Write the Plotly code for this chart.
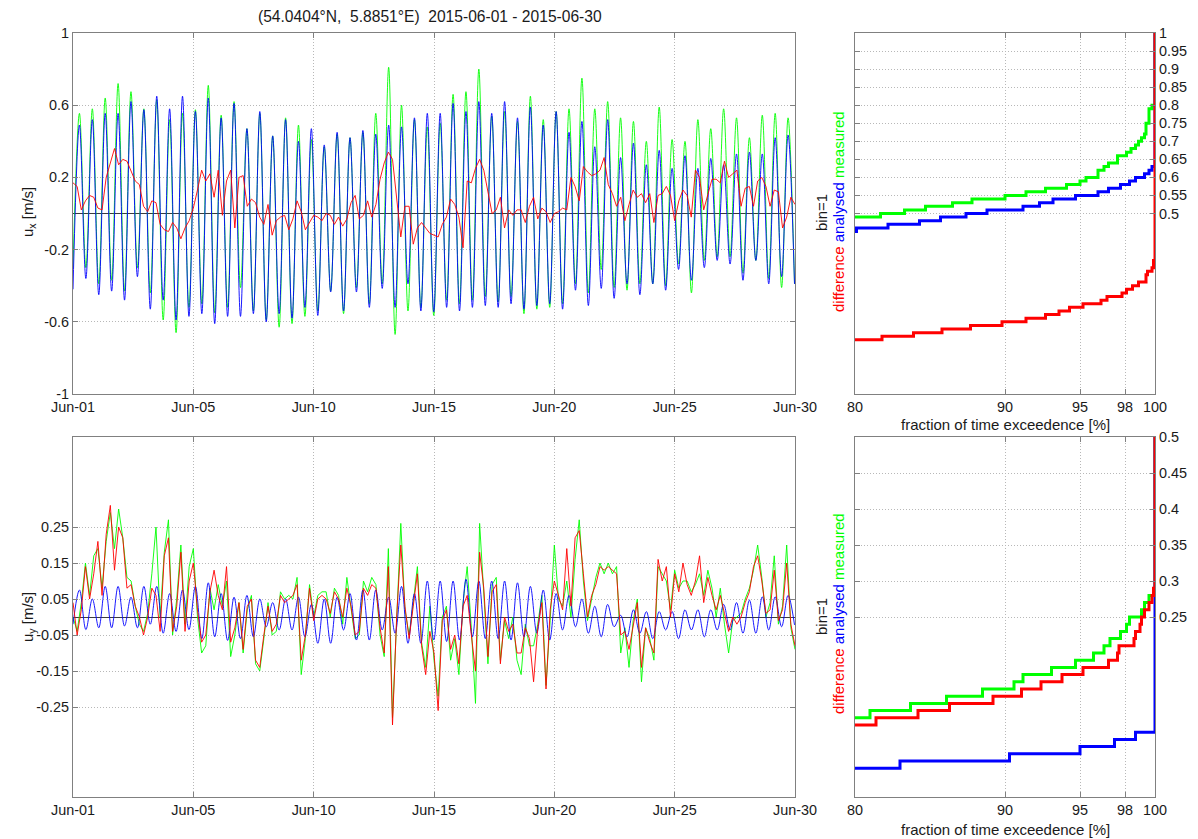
import plotly.graph_objects as go

# ---------------- data ----------------
EXT_STEP_H = 6.21      # hours between successive tidal extrema
DIFF_STEP_H = 4.0      # hours between samples of the noisy series

ux_measured_ext = [
    -0.30, 0.555, -0.30, 0.58, -0.39, 0.64, -0.37, 0.72, -0.43, 0.675,
    -0.30, 0.58, -0.44, 0.63, -0.59, 0.52, -0.66, 0.555, -0.52, 0.575,
    -0.50, 0.71, -0.55, 0.545, -0.52, 0.62, -0.41, 0.47, -0.54, 0.555,
    -0.59, 0.43, -0.63, 0.53, -0.61, 0.49, -0.57, 0.41, -0.54, 0.37,
    -0.43, 0.44, -0.555, 0.42, -0.41, 0.45, -0.50, 0.555, -0.39, 0.81,
    -0.67, 0.60, -0.54, 0.52, -0.52, 0.48, -0.565, 0.50, -0.48, 0.66,
    -0.50, 0.675, -0.48, 0.80, -0.46, 0.54, -0.49, 0.565, -0.46, 0.51,
    -0.555, 0.65, -0.53, 0.52, -0.52, 0.565, -0.50, 0.58, -0.39, 0.75,
    -0.44, 0.58, -0.31, 0.62, -0.41, 0.53, -0.425, 0.51, -0.39, 0.40,
    -0.39, 0.59, -0.40, 0.41, -0.28, 0.40, -0.44, 0.52, -0.26, 0.47,
    -0.24, 0.58, -0.24, 0.53, -0.33, 0.42, -0.26, 0.545, -0.36, 0.555,
    -0.41, 0.53, -0.39]

ux_analysed_ext = [
    -0.42, 0.49, -0.36, 0.52, -0.45, 0.555, -0.43, 0.555, -0.48, 0.62,
    -0.35, 0.575, -0.53, 0.65, -0.48, 0.58, -0.59, 0.65, -0.57, 0.565,
    -0.555, 0.64, -0.61, 0.53, -0.57, 0.61, -0.57, 0.47, -0.555, 0.565,
    -0.60, 0.43, -0.555, 0.52, -0.58, 0.40, -0.52, 0.47, -0.565, 0.38,
    -0.435, 0.45, -0.54, 0.42, -0.435, 0.46, -0.52, 0.44, -0.415, 0.49,
    -0.52, 0.48, -0.39, 0.53, -0.54, 0.555, -0.545, 0.555, -0.52, 0.61,
    -0.54, 0.565, -0.52, 0.62, -0.51, 0.555, -0.52, 0.62, -0.50, 0.53,
    -0.53, 0.59, -0.51, 0.49, -0.50, 0.565, -0.53, 0.45, -0.425, 0.51,
    -0.51, 0.37, -0.415, 0.52, -0.47, 0.31, -0.39, 0.39, -0.45, 0.27,
    -0.39, 0.35, -0.425, 0.25, -0.31, 0.32, -0.37, 0.25, -0.30, 0.305,
    -0.26, 0.27, -0.28, 0.33, -0.37, 0.34, -0.26, 0.33, -0.39, 0.42,
    -0.35, 0.435, -0.39]

ux_difference = [
    0.17, 0.15, 0.02, 0.07, 0.10, 0.09, 0.03, 0.02, 0.20, 0.28,
    0.36, 0.27, 0.30, 0.29, 0.23, 0.18, 0.16, 0.04, 0.01, 0.07,
    0.06, -0.06, -0.09, -0.10, -0.05, -0.08, -0.14, -0.08, -0.04, 0.03,
    0.13, 0.24, 0.18, 0.22, 0.09, 0.24, -0.01, 0.18, 0.24, -0.08,
    0.20, 0.21, 0.04, 0.08, 0.06, -0.02, -0.06, 0.05, -0.12, -0.04,
    -0.02, -0.01, -0.09, -0.03, 0.07, 0.01, -0.09, -0.05, -0.01, -0.02,
    -0.04, 0.00, -0.01, -0.06, -0.02, -0.07, -0.03, 0.06, 0.10, -0.03,
    -0.01, 0.07, -0.02, 0.05, 0.19, 0.28, 0.34, 0.30, 0.07, -0.13,
    0.04, 0.04, -0.17, -0.08, -0.05, -0.08, -0.11, -0.12, -0.13, -0.06,
    -0.02, 0.08, 0.05, -0.02, -0.19, 0.18, 0.17, 0.25, 0.30, 0.24,
    0.11, 0.00, 0.02, 0.09, -0.08, 0.02, -0.01, 0.02, 0.02, -0.05,
    0.04, 0.09, -0.03, 0.03, 0.01, -0.05, 0.00, 0.01, 0.03, 0.02,
    0.20, 0.15, 0.07, 0.26, 0.23, 0.21, 0.22, 0.24, 0.31, 0.16,
    0.11, 0.04, 0.09, -0.04, 0.05, 0.13, 0.09, 0.11, 0.06, 0.11,
    -0.05, 0.10, 0.11, 0.15, 0.10, -0.04, 0.07, 0.13, 0.10, -0.02,
    0.24, 0.20, 0.02, 0.10, 0.19, 0.19, 0.17, 0.29, 0.20, 0.22,
    0.24, 0.04, 0.14, 0.15, 0.04, 0.18, 0.20, 0.15, 0.04, 0.13,
    0.12, -0.08, -0.02, 0.09, 0.05]

uy_measured = [
    0.00, -0.04, 0.04, 0.15, 0.06, 0.17, 0.19, 0.08, 0.21, 0.29,
    0.19, 0.30, 0.22, 0.11, 0.10, 0.03, -0.02, -0.04, 0.01, 0.12,
    0.25, 0.00, 0.18, 0.27, -0.05, 0.05, 0.20, -0.02, 0.14, 0.19,
    0.00, -0.10, -0.08, 0.08, 0.02, 0.09, 0.03, 0.10, -0.11, -0.05,
    0.04, -0.10, 0.02, 0.06, -0.13, -0.15, -0.06, 0.04, -0.05, -0.04,
    0.07, 0.05, 0.06, 0.05, 0.11, -0.16, -0.06, 0.09, 0.00, 0.06,
    0.07, 0.07, 0.00, 0.08, 0.06, -0.02, 0.11, 0.02, -0.06, -0.05,
    0.10, 0.07, 0.11, 0.09, -0.05, -0.11, 0.19, -0.28, 0.00, 0.26,
    0.02, -0.05, 0.04, 0.14, -0.07, -0.14, 0.03, -0.12, -0.22, 0.00,
    0.03, -0.12, -0.06, -0.16, 0.04, 0.14, -0.03, -0.24, 0.26, 0.06,
    -0.13, 0.09, 0.11, -0.12, -0.01, -0.06, 0.00, -0.12, -0.16, -0.02,
    -0.08, -0.08, -0.02, 0.06, -0.19, -0.01, 0.20, 0.05, 0.03, 0.10,
    0.00, 0.16, 0.27, 0.10, -0.01, 0.05, 0.11, 0.15, 0.12, 0.15,
    0.12, 0.14, -0.10, -0.03, -0.14, -0.01, 0.05, -0.18, -0.03, -0.06,
    -0.12, 0.14, 0.12, 0.10, 0.02, 0.13, 0.08, 0.10, 0.10, 0.07,
    0.09, 0.12, 0.06, 0.13, 0.08, 0.00, 0.08, -0.02, -0.10, -0.01,
    0.00, 0.01, 0.05, 0.08, 0.13, 0.20, 0.11, 0.00, 0.04, 0.17,
    -0.02, 0.03, 0.20, -0.03, -0.09]

uy_analysed_ext = [
    -0.02, 0.075, -0.035, 0.05, -0.03, 0.085, -0.03, 0.085, -0.025, 0.055,
    -0.03, 0.085, -0.02, 0.085, -0.045, 0.065, -0.04, 0.075, -0.035, 0.085,
    -0.06, 0.095, -0.055, 0.065, -0.065, 0.055, -0.06, 0.06, -0.055, 0.05,
    -0.027, 0.04, -0.036, 0.05, -0.036, 0.055, -0.055, 0.035, -0.073, 0.05,
    -0.073, 0.055, -0.036, 0.065, -0.064, 0.075, -0.064, 0.075, -0.036, 0.055,
    -0.045, 0.085, -0.073, 0.065, -0.073, 0.10, -0.064, 0.10, -0.068, 0.10,
    -0.064, 0.105, -0.055, 0.10, -0.06, 0.10, -0.06, 0.10, -0.064, 0.095,
    -0.055, 0.085, -0.045, 0.075, -0.064, 0.065, -0.036, 0.06, -0.027, 0.05,
    -0.045, 0.03, -0.055, 0.035, -0.027, 0.005, -0.055, 0.02, -0.045, 0.015,
    -0.06, 0.015, -0.036, 0.015, -0.06, 0.02, -0.036, 0.02, -0.055, 0.02,
    -0.036, 0.035, -0.036, 0.04, -0.045, 0.047, -0.045, 0.056, -0.036, 0.056,
    -0.027, 0.06, -0.022]

uy_difference = [
    0.04, -0.05, 0.02, 0.14, 0.05, 0.12, 0.21, 0.06, 0.23, 0.31,
    0.13, 0.25, 0.22, 0.08, 0.09, 0.03, 0.00, -0.05, 0.00, 0.08,
    0.06, -0.04, 0.17, 0.22, -0.04, 0.03, 0.18, -0.04, 0.10, 0.15,
    0.02, -0.07, -0.05, 0.07, 0.13, 0.06, 0.02, 0.14, -0.07, -0.03,
    0.04, -0.09, 0.03, 0.05, -0.12, -0.14, -0.05, 0.03, -0.04, -0.02,
    0.06, 0.04, 0.05, 0.06, 0.09, -0.12, -0.05, 0.08, -0.01, 0.05,
    0.06, 0.05, 0.01, 0.07, 0.05, 0.00, 0.08, 0.03, -0.05, -0.04,
    0.08, 0.06, 0.09, 0.08, -0.03, -0.10, 0.14, -0.30, 0.00, 0.20,
    0.03, -0.06, 0.03, 0.12, -0.08, -0.16, -0.04, -0.10, -0.26, -0.01,
    0.02, -0.09, -0.05, -0.13, 0.03, 0.06, -0.05, -0.15, 0.18, 0.08,
    -0.11, 0.07, 0.09, -0.13, 0.00, -0.04, -0.02, -0.10, -0.10, -0.03,
    -0.06, -0.18, -0.03, 0.04, -0.20, 0.02, 0.10, 0.06, 0.02, 0.19,
    0.03, 0.22, 0.24, 0.12, 0.00, 0.06, 0.09, 0.14, 0.13, 0.14,
    0.13, 0.12, -0.05, -0.04, -0.09, -0.02, 0.04, -0.14, -0.03, -0.07,
    -0.10, 0.16, 0.10, 0.14, 0.00, 0.12, 0.07, 0.15, 0.09, 0.06,
    0.10, 0.17, 0.04, 0.11, 0.06, 0.02, 0.06, 0.01, -0.04, 0.00,
    -0.02, 0.00, 0.04, 0.07, 0.14, 0.17, 0.10, 0.01, 0.02, 0.13,
    -0.01, 0.02, 0.15, -0.02, -0.08]

time_tick_days = [0, 29 / 6, 2 * 29 / 6, 3 * 29 / 6, 4 * 29 / 6, 5 * 29 / 6, 29]
time_tick_labels = ["Jun-01", "Jun-05", "Jun-10", "Jun-15", "Jun-20", "Jun-25", "Jun-30"]

# exceedance curves (percent where a bin starts, bin value)
ux_exc_measured_pct = [80, 81.7, 83.3, 84.7, 86.5, 87.8, 90.0, 91.4, 92.7, 94.1, 95.0, 95.4,
                       96.2, 96.6, 96.9, 97.5, 98.1, 98.4, 98.7, 98.9, 99.1, 99.3, 99.4, 99.6, 99.8, 100]
ux_exc_measured_val = [0.49, 0.50, 0.51, 0.52, 0.53, 0.54, 0.55, 0.56, 0.57, 0.58, 0.59, 0.60,
                       0.62, 0.63, 0.64, 0.66, 0.67, 0.68, 0.69, 0.70, 0.71, 0.72, 0.75, 0.79, 0.80, 1.0]
ux_exc_analysed_pct = [80, 80.1, 82.2, 84.3, 85.7, 87.4, 88.8, 91.2, 92.3, 93.2, 94.7, 96.2,
                       96.9, 97.7, 98.3, 98.7, 99.3, 99.6, 99.8, 100]
ux_exc_analysed_val = [0.45, 0.46, 0.47, 0.48, 0.49, 0.50, 0.51, 0.52, 0.53, 0.54, 0.55, 0.56,
                       0.57, 0.58, 0.59, 0.60, 0.61, 0.62, 0.63, 1.0]
ux_exc_difference_pct = [80, 81.8, 83.9, 85.8, 87.7, 89.8, 91.4, 92.7, 93.6, 94.3, 95.2, 96.4,
                         96.8, 97.8, 98.1, 98.5, 98.9, 99.4, 99.5, 99.8, 99.9, 100]
ux_exc_difference_val = [0.15, 0.16, 0.17, 0.18, 0.19, 0.20, 0.21, 0.22, 0.23, 0.24, 0.25, 0.26,
                         0.27, 0.28, 0.29, 0.30, 0.31, 0.33, 0.34, 0.35, 0.37, 1.0]

uy_exc_measured_pct = [80, 81.0, 83.7, 86.1, 88.5, 90.6, 91.2, 93.1, 94.7, 95.9, 96.6, 97.0,
                       97.7, 98.1, 98.3, 99.1, 99.3, 99.6, 100]
uy_exc_measured_val = [0.11, 0.12, 0.13, 0.14, 0.15, 0.16, 0.17, 0.18, 0.19, 0.20, 0.21, 0.22,
                       0.23, 0.24, 0.25, 0.26, 0.27, 0.28, 0.5]
uy_exc_analysed_pct = [80, 83.0, 90.3, 95.0, 97.3, 98.7, 100]
uy_exc_analysed_val = [0.04, 0.05, 0.06, 0.07, 0.08, 0.09, 0.5]
uy_exc_difference_pct = [80, 81.4, 84.2, 86.3, 89.2, 91.1, 92.4, 93.8, 95.2, 96.9, 97.5, 97.6,
                         98.6, 98.7, 99.0, 99.1, 99.3, 99.6, 99.8, 99.9, 100]
uy_exc_difference_val = [0.10, 0.11, 0.12, 0.13, 0.14, 0.15, 0.16, 0.17, 0.18, 0.19, 0.20, 0.21,
                         0.22, 0.23, 0.24, 0.25, 0.26, 0.27, 0.28, 0.29, 0.5]

exc_ticks = [80, 90, 95, 98, 100]
ux_exc_yticks = [0.5, 0.55, 0.6, 0.65, 0.7, 0.75, 0.8, 0.85, 0.9, 0.95, 1.0]
uy_exc_yticks = [0.25, 0.3, 0.35, 0.4, 0.45, 0.5]
ux_yticks = [-1, -0.6, -0.2, 0.2, 0.6, 1]
uy_yticks = [-0.25, -0.15, -0.05, 0.05, 0.15, 0.25]

# ---------------- figure ----------------
W, H = 1198, 839
GREEN, BLUE, RED = "#00ff00", "#0000ff", "#ff0000"
FRAME = "#808080"
GRID = "#b8b8b8"
FAM = "Liberation Sans, Arial, sans-serif"
TXT = "#1a1a1a"
TICKFONT = dict(family=FAM, size=14.4, color=TXT)
LABELFONT = dict(family=FAM, size=15, color=TXT)
TITLEFONT = dict(family=FAM, size=15.6, color=TXT)

t_ext = [k * EXT_STEP_H / 24 for k in range(len(ux_measured_ext))]
t_ext_uy = [k * EXT_STEP_H / 24 for k in range(len(uy_analysed_ext))]
t_diff = [i * DIFF_STEP_H / 24 for i in range(len(ux_difference))]
t_uy = [i * DIFF_STEP_H / 24 for i in range(len(uy_measured))]

fig = go.Figure()

def ts(x, y, color, xa, ya, spline=False):
    fig.add_trace(go.Scatter(
        x=x, y=y, mode="lines", xaxis=xa, yaxis=ya, showlegend=False, hoverinfo="skip",
        line=dict(color=color, width=0.9, shape="spline" if spline else "linear", smoothing=1.0)))

ts(t_ext, ux_measured_ext, GREEN, "x", "y", True)
ts(t_ext, ux_analysed_ext, BLUE, "x", "y", True)
ts(t_diff, ux_difference, RED, "x", "y")

ts(t_uy, uy_measured, GREEN, "x2", "y2")
ts(t_ext_uy, uy_analysed_ext, BLUE, "x2", "y2", True)
ts(t_uy, uy_difference, RED, "x2", "y2")

def exc(x, y, color, xa, ya):
    fig.add_trace(go.Scatter(
        x=x, y=y, mode="lines", xaxis=xa, yaxis=ya, showlegend=False, hoverinfo="skip",
        line=dict(color=color, width=3, shape="hv")))

exc(ux_exc_measured_pct, ux_exc_measured_val, GREEN, "x3", "y3")
exc(ux_exc_analysed_pct, ux_exc_analysed_val, BLUE, "x3", "y3")
exc(ux_exc_difference_pct, ux_exc_difference_val, RED, "x3", "y3")
exc(uy_exc_measured_pct, uy_exc_measured_val, GREEN, "x4", "y4")
exc(uy_exc_analysed_pct, uy_exc_analysed_val, BLUE, "x4", "y4")
exc(uy_exc_difference_pct, uy_exc_difference_val, RED, "x4", "y4")

def px_x(a, b):
    return [a / W, b / W]

def px_y(top, bottom):
    return [1 - bottom / H, 1 - top / H]

common = dict(showline=True, linecolor=FRAME, linewidth=1, mirror="ticks",
              ticks="inside", ticklen=5, tickcolor=FRAME, tickwidth=1,
              showgrid=True, gridcolor=GRID, gridwidth=1, griddash="1px,2px",
              zeroline=False, automargin=False, tickfont=TICKFONT, fixedrange=True)

def fmt(v):
    return ("%.2f" % v).rstrip("0").rstrip(".")

LX = px_x(73, 795)
RX = px_x(855, 1155)
TY = px_y(33, 394)
BY = px_y(437, 797)

fig.update_layout(
    width=W, height=H, margin=dict(l=0, r=0, t=0, b=0, pad=0),
    paper_bgcolor="white", plot_bgcolor="white", font=TICKFONT,
    xaxis=dict(common, domain=LX, anchor="y", range=[0, 29],
               tickmode="array", tickvals=time_tick_days, ticktext=time_tick_labels),
    yaxis=dict(common, domain=TY, anchor="x", range=[-1, 1],
               tickmode="array", tickvals=ux_yticks, ticktext=[fmt(v) for v in ux_yticks],
               zeroline=True, zerolinecolor="#3c3c3c", zerolinewidth=1),
    xaxis2=dict(common, domain=LX, anchor="y2", range=[0, 29],
                tickmode="array", tickvals=time_tick_days, ticktext=time_tick_labels),
    yaxis2=dict(common, domain=BY, anchor="x2", range=[-0.5, 0.5],
                tickmode="array", tickvals=uy_yticks, ticktext=[fmt(v) for v in uy_yticks],
                zeroline=True, zerolinecolor="#3c3c3c", zerolinewidth=1),
    xaxis3=dict(common, domain=RX, anchor="y3", range=[80, 100],
                tickmode="array", tickvals=exc_ticks, ticktext=[str(v) for v in exc_ticks]),
    yaxis3=dict(common, domain=TY, anchor="x3", range=[0, 1], side="right",
                tickmode="array", tickvals=ux_exc_yticks, ticktext=[fmt(v) for v in ux_exc_yticks]),
    xaxis4=dict(common, domain=RX, anchor="y4", range=[80, 100],
                tickmode="array", tickvals=exc_ticks, ticktext=[str(v) for v in exc_ticks]),
    yaxis4=dict(common, domain=BY, anchor="x4", range=[0, 0.5], side="right",
                tickmode="array", tickvals=uy_exc_yticks, ticktext=[fmt(v) for v in uy_exc_yticks]),
)

NB = "\u00a0"
legend_txt = ("<span style='color:#ff0000'>difference</span> "
              "<span style='color:#0000ff'>analysed</span> "
              "<span style='color:#00ff00'>measured</span>")

annotations = [
    dict(text="(54.0404°N," + NB + " 5.8851°E)" + NB + " 2015-06-01 - 2015-06-30",
         x=430 / W, y=1 - 17 / H, font=TITLEFONT),
    dict(text="u<sub>x</sub> [m/s]", x=28 / W, y=1 - 212 / H, textangle=-90),
    dict(text="u<sub>y</sub> [m/s]", x=28 / W, y=1 - 617 / H, textangle=-90),
    dict(text="bin=1", x=821 / W, y=1 - 213 / H, textangle=-90),
    dict(text=legend_txt, x=838 / W, y=1 - 212 / H, textangle=-90),
    dict(text="bin=1", x=821 / W, y=1 - 617 / H, textangle=-90),
    dict(text=legend_txt, x=838 / W, y=1 - 614 / H, textangle=-90),
    dict(text="fraction of time exceedence [%]", x=1005 / W, y=1 - 424 / H),
    dict(text="fraction of time exceedence [%]", x=1005 / W, y=1 - 829 / H),
]
for a in annotations:
    a.setdefault("font", LABELFONT)
    a.update(xref="paper", yref="paper", showarrow=False, xanchor="center", yanchor="middle")
fig.update_layout(annotations=annotations)

fig.write_html("out.html")
